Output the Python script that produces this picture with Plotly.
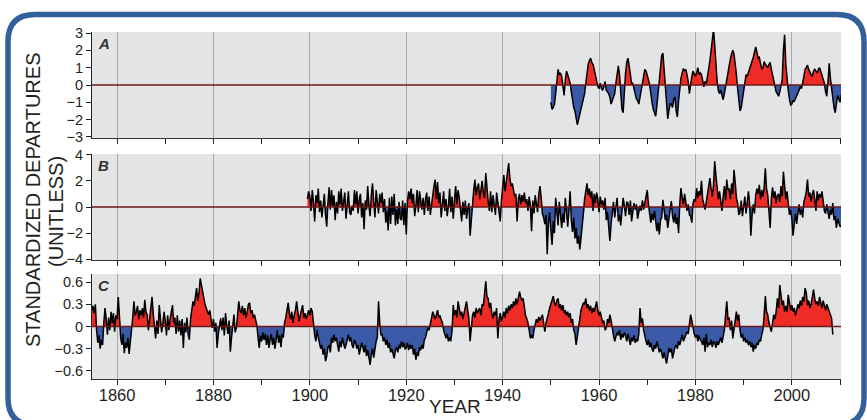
import numpy as np
import plotly.graph_objects as go

# ---------------- data (standardized departures, quarterly) ----------------
A_START, A_STEP = 1950.0, 0.25
A_VALUES = [
    -1.0, -1.4, -1.3, -1.1,   # 1950
    -0.5, 0.2, 0.9, 0.6,      # 1951
    0.7, 0.5, -0.2, -0.6,     # 1952
    0.3, 0.8, 0.6, 0.4,       # 1953
    0.1, -0.4, -0.9, -1.3,    # 1954
    -1.5, -1.9, -2.3, -2.0,   # 1955
    -1.7, -1.5, -1.2, -0.9,   # 1956
    -0.5, 0.1, 0.8, 1.2,      # 1957
    1.4, 1.55, 1.3, 1.2,      # 1958
    0.9, 0.6, 0.3, -0.1,      # 1959
    -0.2, 0.1, -0.2, -0.3,    # 1960
    -0.1, 0.2, -0.3, -0.4,    # 1961
    -0.5, -0.7, -1.1, -0.9,   # 1962
    -0.7, -0.5, 0.1, 0.6,     # 1963
    1.1, 0.6, -0.6, -1.4,     # 1964
    -1.6, -0.3, 0.7, 1.3,     # 1965
    1.55, 1.1, 0.5, 0.1,      # 1966
    0.1, -0.3, -0.5, -0.8,    # 1967
    -0.9, -1.1, -0.6, -0.3,   # 1968
    0.1, 0.5, 0.9, 0.8,       # 1969
    0.6, 0.3, 0.0, -0.6,      # 1970
    -1.0, -1.4, -1.6, -1.8,   # 1971
    -1.2, -0.5, 0.2, 1.2,     # 1972
    1.7, 1.85, 1.0, 0.2,      # 1973
    -1.0, -1.95, -1.5, -1.1,  # 1974
    -1.1, -1.3, -0.8, -0.7,   # 1975
    -1.5, -1.85, -0.9, -0.1,  # 1976
    0.4, 0.7, 0.95, 0.8,      # 1977
    0.9, 0.6, 0.2, -0.5,      # 1978
    0.1, 0.5, 0.8, 0.6,       # 1979
    0.5, 0.7, 1.0, 0.6,       # 1980
    0.7, 0.6, 0.2, -0.1,      # 1981
    0.2, 0.1, 0.5, 0.9,       # 1982
    1.4, 2.0, 2.6, 3.2,       # 1983
    2.3, 1.0, 0.2, -0.3,      # 1984
    -0.5, -0.3, -0.7, -0.85,  # 1985
    -0.5, -0.1, 0.3, 0.9,     # 1986
    1.2, 1.5, 1.8, 2.0,       # 1987
    1.8, 1.3, 0.6, -0.2,      # 1988
    -0.9, -1.5, -1.3, -0.8,   # 1989
    -0.4, 0.1, 0.6, 0.5,      # 1990
    0.7, 1.0, 1.1, 1.3,       # 1991
    1.6, 1.9, 2.2, 1.9,       # 1992
    1.55, 1.6, 1.2, 0.9,      # 1993
    1.0, 1.35, 1.2, 1.1,      # 1994
    1.0, 1.2, 1.3, 0.9,       # 1995
    0.6, 0.3, 0.0, -0.4,      # 1996
    -0.5, -0.65, -0.4, -0.1,  # 1997
    0.3, 2.0, 2.9, 1.2,       # 1998
    0.3, -0.3, -0.8, -1.15,   # 1999
    -1.1, -0.9, -0.95, -0.8,  # 2000
    -0.6, -0.55, -0.3, -0.1,  # 2001
    -0.2, 0.1, 0.5, 0.9,      # 2002
    1.0, 1.15, 0.9, 0.7,      # 2003
    0.6, 0.5, 0.8, 0.9,       # 2004
    0.8, 0.7, 0.9, 1.0,       # 2005
    0.8, 0.6, 0.4, 0.1,       # 2006
    -0.4, -0.65, 0.2, 1.25,   # 2007
    0.4, -0.3, -1.0, -1.3,    # 2008
    -1.6, -1.2, -0.6, -0.8,   # 2009
    -1.0, -0.55,              # 2010
]

B_START, B_STEP = 1899.5, 0.25
B_VALUES = [
    0.6, 1.2,                 # 1899
    0.8, -0.3, 1.3, 0.4,      # 1900
    -1.1, 0.9, 0.3, 1.4,      # 1901
    -0.4, 0.5, -0.8, 0.2,     # 1902
    1.0, -0.6, -1.5, 0.3,     # 1903
    1.5, -0.2, 1.3, 0.1,      # 1904
    0.9, -1.0, 0.4, -0.5,     # 1905
    1.2, 0.2, 1.4, -0.3,      # 1906
    0.5, 1.1, -0.9, 0.3,      # 1907
    1.2, -0.4, -0.6, 0.1,     # 1908
    -0.3, 1.3, 0.2, 1.2,      # 1909
    -0.5, 0.6, 1.0, -0.8,     # 1910
    0.3, -1.7, 0.5, -0.2,     # 1911
    1.6, 0.1, -0.7, 0.9,      # 1912
    1.8, 0.4, -0.8, 1.3,      # 1913
    0.2, -0.5, 1.0, 0.3,      # 1914
    1.1, -0.4, 0.6, -1.2,     # 1915
    -0.3, -1.8, 0.7, -1.3,    # 1916
    0.8, -0.6, 1.0, -1.4,     # 1917
    -0.2, -1.3, 0.4, -0.9,    # 1918
    -1.0, 0.5, -1.4, 0.3,     # 1919
    -2.1, 0.4, 1.2, 0.6,      # 1920
    1.4, 0.3, 1.0, -0.7,      # 1921
    0.1, 1.3, -0.4, 1.2,      # 1922
    0.5, -0.2, 0.7, -0.6,     # 1923
    0.6, 1.1, -0.3, 0.8,      # 1924
    -0.6, 0.4, 0.9, 1.6,      # 1925
    2.1, 0.6, 1.9, 0.3,       # 1926
    1.1, -0.8, 0.5, 1.2,      # 1927
    -0.3, 0.6, -0.7, 0.1,     # 1928
    1.4, -0.4, 0.8, -0.9,     # 1929
    0.5, 1.6, 0.2, 1.3,       # 1930
    0.7, -0.3, -1.1, 0.4,     # 1931
    -0.6, 0.5, -0.9, -0.2,    # 1932
    0.3, -2.2, -0.8, 0.6,     # 1933
    1.3, 2.1, 0.9, 1.5,       # 1934
    1.8, 0.6, 1.4, 2.0,       # 1935
    1.1, 0.7, 2.6, 1.2,       # 1936
    0.4, -0.3, 1.2, -0.4,     # 1937
    0.9, 0.2, -0.6, 1.1,      # 1938
    0.3, -0.4, -1.1, 0.5,     # 1939
    1.5, 2.45, 1.2, 2.0,      # 1940
    2.6, 3.35, 2.2, 1.6,      # 1941
    1.8, 1.2, 0.8, 1.0,       # 1942
    -1.1, 0.6, 1.0, 0.2,      # 1943
    0.9, 0.4, 1.1, 0.3,       # 1944
    0.6, -0.3, 0.8, 0.1,      # 1945
    -1.85, 0.5, -0.5, 0.9,    # 1946
    0.3, -0.4, 1.0, 1.6,      # 1947
    0.7, -0.5, -0.8, -1.3,    # 1948
    -0.6, -3.6, -1.2, -0.4,   # 1949
    -1.8, -2.9, -1.1, -2.0,   # 1950
    0.7, -0.8, -1.4, 0.4,     # 1951
    -0.9, -1.6, -0.5, -1.2,   # 1952
    0.7, -0.6, -1.5, -0.3,    # 1953
    1.2, -1.0, -1.9, -0.8,    # 1954
    -2.4, -1.6, -2.8, -2.2,   # 1955
    -3.25, -2.4, -1.6, -0.5,  # 1956
    0.6, 1.1, 1.8, 0.9,       # 1957
    1.4, 0.7, 1.2, -0.3,      # 1958
    1.0, 0.3, 1.1, 0.6,       # 1959
    -0.4, 0.8, 0.2, 0.5,      # 1960
    -0.2, 0.7, -1.0, -0.4,    # 1961
    -1.6, -2.6, -1.3, -0.6,   # 1962
    0.4, -0.8, 0.2, 0.7,      # 1963
    -1.1, -0.6, -1.4, -0.3,   # 1964
    0.7, 0.1, -0.7, 0.4,      # 1965
    0.3, -0.6, 0.5, -1.1,     # 1966
    -0.4, 0.3, -0.2, 0.2,     # 1967
    -0.9, -0.4, 0.1, -0.3,    # 1968
    0.5, -0.2, 0.4, 0.9,      # 1969
    1.3, 0.2, -0.6, -1.2,     # 1970
    -0.5, -1.0, -0.3, -1.4,   # 1971
    -1.85, -1.2, -2.1, -1.0,  # 1972
    -0.8, 0.55, -0.4, -1.0,   # 1973
    -0.6, -1.6, -0.9, -0.2,   # 1974
    0.45, -0.7, -1.2, -0.5,   # 1975
    -1.3, -0.8, -2.0, 0.3,    # 1976
    1.45, 0.7, 0.2, 1.0,      # 1977
    0.5, -0.3, 0.2, -0.6,     # 1978
    -0.7, -1.2, 0.3, 0.6,     # 1979
    0.4, 1.45, 0.7, 1.2,      # 1980
    0.9, 2.0, 0.6, 0.2,       # 1981
    -0.2, 0.4, 1.1, 1.6,      # 1982
    2.2, 1.4, 0.8, 1.7,       # 1983
    3.5, 2.4, 1.2, 0.6,       # 1984
    1.2, 0.4, -0.3, 0.8,      # 1985
    1.6, 0.5, 2.1, 1.3,       # 1986
    1.4, 0.6, 1.8, 1.0,       # 1987
    2.85, 1.9, 0.7, 0.3,      # 1988
    -0.6, -0.4, 0.5, -0.7,    # 1989
    0.3, 0.8, -0.5, 0.4,      # 1990
    1.2, 0.2, -2.2, -0.6,     # 1991
    0.2, -0.5, 0.9, 1.4,      # 1992
    1.0, 1.7, 0.6, 1.3,       # 1993
    0.8, 1.5, 2.95, 1.4,      # 1994
    0.9, -0.3, -1.6, 0.6,     # 1995
    1.5, 0.7, 1.2, 0.3,       # 1996
    0.9, 1.0, 0.4, 1.6,       # 1997
    0.8, 2.7, 1.5, 0.6,       # 1998
    1.2, 0.3, -0.6, -0.2,     # 1999
    -0.9, -2.2, -1.0, -0.5,   # 2000
    -1.3, -0.4, 0.2, -0.6,    # 2001
    -0.2, -0.8, 0.4, 0.7,     # 2002
    1.2, 2.1, 0.8, 1.1,       # 2003
    0.4, 1.0, 1.3, 0.6,       # 2004
    -0.3, 1.2, 0.5, 1.0,      # 2005
    0.7, 1.2, 0.4, -0.3,      # 2006
    -0.5, 0.2, -0.4, -0.9,    # 2007
    -0.2, -0.6, 0.3, -1.0,    # 2008
    -0.7, -1.6, -0.9, -1.2,   # 2009
    -1.5, -1.4,               # 2010
]

C_START, C_STEP = 1854.75, 0.25
C_VALUES = [
    0.22,                          # 1854
    0.28, 0.18, 0.30, -0.05,       # 1855
    -0.22, -0.12, -0.30, -0.18,    # 1856
    -0.25, 0.05, 0.25, 0.10,       # 1857
    -0.11, 0.12, -0.05, 0.20,      # 1858
    0.05, 0.18, -0.07, 0.15,       # 1859
    0.10, 0.40, 0.12, -0.15,       # 1860
    -0.25, -0.10, -0.36, -0.22,    # 1861
    -0.29, -0.15, -0.37, -0.20,    # 1862
    -0.11, 0.12, 0.34, 0.15,       # 1863
    0.20, 0.28, 0.10, 0.22,        # 1864
    0.15, 0.25, 0.12, 0.36,        # 1865
    0.20, 0.16, -0.05, 0.12,       # 1866
    0.25, 0.40, 0.18, 0.05,        # 1867
    -0.16, 0.08, -0.10, 0.29,      # 1868
    0.10, -0.08, 0.05, 0.20,       # 1869
    0.08, -0.12, 0.15, -0.05,      # 1870
    0.10, 0.18, 0.29, 0.05,        # 1871
    0.12, -0.10, 0.15, -0.07,      # 1872
    0.08, -0.12, 0.10, -0.29,      # 1873
    0.05, -0.08, 0.12, -0.11,      # 1874
    -0.18, 0.10, 0.25, 0.34,       # 1875
    0.28, 0.40, 0.52, 0.35,        # 1876
    0.45, 0.65, 0.55, 0.47,        # 1877
    0.40, 0.30, 0.25, 0.20,        # 1878
    0.16, 0.22, 0.08, -0.02,       # 1879
    0.10, -0.07, 0.05, -0.29,      # 1880
    -0.10, 0.05, 0.11, -0.05,      # 1881
    0.12, -0.12, 0.18, 0.02,       # 1882
    -0.10, 0.08, -0.34, -0.15,     # 1883
    0.05, 0.16, -0.08, -0.02,      # 1884
    0.15, 0.34, 0.22, 0.18,        # 1885
    0.28, 0.15, 0.25, 0.12,        # 1886
    0.20, 0.30, 0.32, 0.18,        # 1887
    0.22, 0.12, 0.16, 0.08,        # 1888
    0.02, -0.15, -0.29, -0.12,     # 1889
    -0.20, -0.08, -0.18, -0.10,    # 1890
    -0.25, -0.12, -0.29, -0.18,    # 1891
    -0.10, -0.25, -0.15, -0.30,    # 1892
    -0.18, -0.05, -0.22, -0.12,    # 1893
    -0.28, -0.10, -0.15, 0.05,     # 1894
    0.12, 0.20, 0.32, 0.18,        # 1895
    0.10, 0.20, 0.05, 0.15,        # 1896
    0.22, 0.34, 0.20, 0.07,        # 1897
    0.15, 0.22, 0.29, 0.12,        # 1898
    0.18, 0.10, 0.18, 0.22,        # 1899
    0.15, 0.25, 0.20, -0.02,       # 1900
    -0.11, -0.20, -0.05, -0.15,    # 1901
    -0.22, -0.30, -0.25, -0.38,    # 1902
    -0.30, -0.47, -0.40, -0.28,    # 1903
    -0.25, -0.35, -0.15, -0.22,    # 1904
    -0.11, -0.20, -0.15, -0.25,    # 1905
    -0.34, -0.20, -0.28, -0.15,    # 1906
    -0.22, -0.30, -0.25, -0.18,    # 1907
    -0.11, -0.20, -0.15, -0.25,    # 1908
    -0.29, -0.18, -0.22, -0.30,    # 1909
    -0.25, -0.38, -0.30, -0.22,    # 1910
    -0.28, -0.35, -0.25, -0.40,    # 1911
    -0.32, -0.45, -0.52, -0.38,    # 1912
    -0.30, -0.42, -0.29, -0.20,    # 1913
    -0.15, 0.34, 0.05, -0.11,      # 1914
    -0.11, -0.20, -0.15, -0.25,    # 1915
    -0.18, -0.29, -0.22, -0.35,    # 1916
    -0.30, -0.38, -0.43, -0.32,    # 1917
    -0.28, -0.35, -0.25, -0.30,    # 1918
    -0.20, -0.28, -0.22, -0.30,    # 1919
    -0.29, -0.22, -0.32, -0.25,    # 1920
    -0.30, -0.25, -0.38, -0.30,    # 1921
    -0.45, -0.35, -0.40, -0.28,    # 1922
    -0.32, -0.25, -0.30, -0.18,    # 1923
    -0.15, -0.08, -0.02, -0.05,    # 1924
    0.05, 0.12, 0.20, 0.15,        # 1925
    0.10, 0.16, 0.22, 0.12,        # 1926
    0.15, 0.09, 0.05, -0.05,       # 1927
    -0.12, -0.16, -0.10, -0.20,    # 1928
    -0.15, -0.20, -0.05, 0.29,     # 1929
    0.15, 0.22, 0.12, 0.34,        # 1930
    0.25, 0.15, 0.20, 0.10,        # 1931
    0.18, 0.28, 0.34, 0.22,        # 1932
    0.11, -0.20, 0.05, 0.15,       # 1933
    0.20, 0.12, 0.25, 0.18,        # 1934
    0.22, 0.25, 0.15, 0.30,        # 1935
    0.28, 0.45, 0.61, 0.40,        # 1936
    0.38, 0.25, 0.32, 0.18,        # 1937
    0.11, 0.20, 0.15, 0.25,        # 1938
    -0.16, 0.10, 0.18, 0.07,       # 1939
    0.15, 0.20, 0.12, 0.25,        # 1940
    0.18, 0.28, 0.22, 0.30,        # 1941
    0.25, 0.34, 0.28, 0.38,        # 1942
    0.30, 0.42, 0.47, 0.40,        # 1943
    0.35, 0.38, 0.25, 0.15,        # 1944
    0.11, 0.05, -0.05, -0.16,      # 1945
    -0.12, -0.16, -0.05, 0.05,     # 1946
    0.10, 0.05, 0.13, 0.08,        # 1947
    0.12, 0.16, 0.05, -0.07,       # 1948
    0.05, 0.10, 0.18, 0.25,        # 1949
    0.30, 0.35, 0.41, 0.32,        # 1950
    0.28, 0.35, 0.38, 0.25,        # 1951
    0.30, 0.22, 0.29, 0.18,        # 1952
    0.22, 0.15, 0.20, 0.12,        # 1953
    0.18, 0.05, 0.10, -0.05,       # 1954
    -0.10, -0.25, -0.12, 0.05,     # 1955
    0.10, 0.22, 0.28, 0.32,        # 1956
    0.30, 0.38, 0.25, 0.30,        # 1957
    0.22, 0.28, 0.18, 0.25,        # 1958
    0.20, 0.28, 0.34, 0.22,        # 1959
    0.15, 0.20, 0.11, 0.05,        # 1960
    0.08, -0.05, -0.02, 0.10,      # 1961
    0.05, 0.16, 0.08, -0.05,       # 1962
    -0.12, -0.20, -0.15, -0.08,    # 1963
    -0.12, -0.05, -0.18, -0.10,    # 1964
    -0.15, -0.08, -0.12, -0.20,    # 1965
    -0.10, -0.18, -0.25, -0.15,    # 1966
    -0.20, -0.12, -0.22, -0.18,    # 1967
    -0.20, -0.10, 0.25, 0.05,      # 1968
    0.11, -0.05, -0.15, -0.20,     # 1969
    -0.25, -0.18, -0.28, -0.22,    # 1970
    -0.30, -0.34, -0.25, -0.30,    # 1971
    -0.20, -0.28, -0.35, -0.30,    # 1972
    -0.38, -0.43, -0.35, -0.45,    # 1973
    -0.50, -0.40, -0.29, -0.35,    # 1974
    -0.30, -0.43, -0.35, -0.28,    # 1975
    -0.25, -0.30, -0.20, -0.25,    # 1976
    -0.18, -0.11, -0.20, -0.15,    # 1977
    -0.12, -0.07, -0.10, 0.05,     # 1978
    0.16, 0.08, -0.05, -0.10,      # 1979
    -0.15, -0.11, -0.20, -0.12,    # 1980
    -0.18, -0.20, -0.25, -0.15,    # 1981
    -0.34, -0.10, -0.28, -0.22,    # 1982
    -0.25, -0.18, -0.28, -0.20,    # 1983
    -0.22, -0.29, -0.20, -0.25,    # 1984
    -0.20, -0.15, -0.22, -0.10,    # 1985
    -0.05, 0.15, 0.34, 0.10,       # 1986
    0.11, -0.05, 0.08, -0.16,      # 1987
    -0.05, 0.10, 0.20, 0.08,       # 1988
    0.16, -0.05, -0.15, -0.10,     # 1989
    -0.20, -0.15, -0.22, -0.18,    # 1990
    -0.25, -0.20, -0.28, -0.22,    # 1991
    -0.34, -0.25, -0.30, -0.22,    # 1992
    -0.25, -0.18, -0.20, -0.11,    # 1993
    -0.05, 0.15, 0.41, 0.20,       # 1994
    0.16, 0.05, -0.02, -0.07,      # 1995
    0.05, 0.16, 0.10, 0.20,        # 1996
    0.38, 0.25, 0.56, 0.40,        # 1997
    0.29, 0.35, 0.20, 0.28,        # 1998
    0.20, 0.43, 0.30, 0.22,        # 1999
    0.29, 0.20, 0.25, 0.15,        # 2000
    0.22, 0.30, 0.25, 0.35,        # 2001
    0.28, 0.40, 0.34, 0.52,        # 2002
    0.45, 0.29, 0.35, 0.25,        # 2003
    0.30, 0.42, 0.50, 0.38,        # 2004
    0.30, 0.34, 0.28, 0.40,        # 2005
    0.32, 0.25, 0.35, 0.29,        # 2006
    0.22, 0.30, 0.25, 0.20,        # 2007
    0.15, 0.11, -0.11,             # 2008
]

PANEL_LABELS = ["A", "B", "C"]
A_TICKS = [-3, -2, -1, 0, 1, 2, 3]
B_TICKS = [-4, -2, 0, 2, 4]
C_TICKS = [-0.6, -0.3, 0, 0.3, 0.6]
X_TICKS = [1860, 1880, 1900, 1920, 1940, 1960, 1980, 2000]

# ---------------- styling ----------------
W, H = 867, 420
ML, MR, MT, MB = 92, 26, 32, 41
PW, PH = W - ML - MR, H - MT - MB
RED = "#ee2b25"
BLUE = "#3a5aa8"
BG = "#e3e4e6"
GRID = "#a9a9ab"
ZERO = "#6b1a1a"
FONT = "Liberation Sans, Arial, Helvetica, sans-serif"
TXT = "#231f20"


def px(x):
    return (x - ML) / PW


def py(y):
    return (H - MB - y) / PH


def with_crossings(x, y):
    xs, ys = [x[0]], [y[0]]
    for i in range(1, len(x)):
        if y[i - 1] * y[i] < 0:
            xc = x[i - 1] + (x[i] - x[i - 1]) * y[i - 1] / (y[i - 1] - y[i])
            xs.append(xc)
            ys.append(0.0)
        xs.append(x[i])
        ys.append(y[i])
    ys = np.array(ys)
    return np.array(xs), np.maximum(ys, 0), np.minimum(ys, 0)


def fmt_tick(t):
    if t == 0:
        return "0"
    s = str(abs(t))
    return ("−" + s) if t < 0 else s


series = [
    (A_START, A_STEP, A_VALUES),
    (B_START, B_STEP, B_VALUES),
    (C_START, C_STEP, C_VALUES),
]

fig = go.Figure()
for i, (start, step, vals) in enumerate(series):
    v = np.array(vals, dtype=float)
    x = start + step * np.arange(len(v))
    xs, pos, neg = with_crossings(x, v)
    sfx = "" if i == 0 else str(i + 1)
    common = dict(xaxis="x" + sfx, yaxis="y" + sfx, mode="lines",
                  hoverinfo="skip", showlegend=False)
    fig.add_trace(go.Scatter(x=xs, y=pos, fill="tozeroy", fillcolor=RED,
                             line=dict(width=0, color=RED), **common))
    fig.add_trace(go.Scatter(x=xs, y=neg, fill="tozeroy", fillcolor=BLUE,
                             line=dict(width=0, color=BLUE), **common))
    fig.add_trace(go.Scatter(x=x, y=v, line=dict(width=1.5, color="black"),
                             **common))

XR = [1854.8, 2010.2]
domains = [[py(138), py(32)], [py(260), py(154)], [py(379), py(274)]]
yranges = [[-3.06, 3.06], [-4.05, 4.05], [-0.71, 0.71]]
yticks = [A_TICKS, B_TICKS, C_TICKS]

layout = dict(
    width=W, height=H,
    margin=dict(l=ML, r=MR, t=MT, b=MB, autoexpand=False),
    paper_bgcolor="white", plot_bgcolor=BG,
    font=dict(family=FONT, color=TXT),
    showlegend=False,
)
for i in range(3):
    sfx = "" if i == 0 else str(i + 1)
    layout["xaxis" + sfx] = dict(
        domain=[0, 1], anchor="y" + sfx, range=XR, automargin=False,
        tickvals=X_TICKS, ticktext=[str(t) for t in X_TICKS],
        showgrid=True, gridcolor=GRID, gridwidth=1.2,
        ticks="outside", ticklen=5, tickcolor="#222", tickwidth=1,
        showticklabels=(i == 2),
        tickfont=dict(size=16.5, family=FONT, color=TXT),
        ticklabelstandoff=-4,
        showline=True, linecolor="#333", linewidth=1,
        zeroline=False,
        minor=dict(tickvals=list(range(1860, 2011, 10)), ticks="outside",
                   ticklen=5, tickcolor="#222", showgrid=False),
        matches=None if i == 0 else "x",
    )
    layout["yaxis" + sfx] = dict(
        domain=domains[i], anchor="x" + sfx, range=yranges[i], automargin=False,
        tickvals=yticks[i], ticktext=[fmt_tick(t) for t in yticks[i]],
        ticks="outside", ticklen=5, tickcolor="#222", tickwidth=1,
        tickfont=dict(size=14.5, family=FONT, color=TXT),
        showline=True, linecolor="#222", linewidth=1,
        showgrid=False, zeroline=False,
    )
fig.update_layout(**layout)

shapes = []
for i in range(3):
    sfx = "" if i == 0 else str(i + 1)
    shapes.append(dict(type="line", xref="x" + sfx + " domain", yref="y" + sfx,
                       x0=0, x1=1, y0=0, y1=0, layer="above",
                       line=dict(color=ZERO, width=1.5)))

# rounded blue frame
x0, y0, x1, y1, r = 8, 14.5, 864, 425, 27
path = (f"M {px(x0 + r)},{py(y0)} L {px(x1 - r)},{py(y0)} "
        f"Q {px(x1)},{py(y0)} {px(x1)},{py(y0 + r)} "
        f"L {px(x1)},{py(y1 - r)} Q {px(x1)},{py(y1)} {px(x1 - r)},{py(y1)} "
        f"L {px(x0 + r)},{py(y1)} Q {px(x0)},{py(y1)} {px(x0)},{py(y1 - r)} "
        f"L {px(x0)},{py(y0 + r)} Q {px(x0)},{py(y0)} {px(x0 + r)},{py(y0)} Z")
shapes.append(dict(type="path", xref="paper", yref="paper", path=path,
                   line=dict(color="#31609a", width=5.5), layer="below"))
fig.update_layout(shapes=shapes)

annotations = []
label_tops = [33, 155, 275]
for lab, top in zip(PANEL_LABELS, label_tops):
    annotations.append(dict(text=f"<b><i>{lab}</i></b>", xref="paper", yref="paper",
                            x=px(96), y=py(top), xanchor="left", yanchor="top",
                            showarrow=False,
                            font=dict(size=15, family=FONT, color="#333")))
annotations.append(dict(text="STANDARDIZED DEPARTURES", xref="paper", yref="paper",
                        x=px(33), y=py(200), xanchor="center", yanchor="middle",
                        textangle=-90, showarrow=False,
                        font=dict(size=20, family=FONT, color=TXT)))
annotations.append(dict(text="(UNITLESS)", xref="paper", yref="paper",
                        x=px(56), y=py(212), xanchor="center", yanchor="middle",
                        textangle=-90, showarrow=False,
                        font=dict(size=20, family=FONT, color=TXT)))
annotations.append(dict(text="YEAR", xref="paper", yref="paper",
                        x=px(455), y=py(419), xanchor="center", yanchor="bottom",
                        showarrow=False,
                        font=dict(size=19, family=FONT, color=TXT)))
fig.update_layout(annotations=annotations)

fig.write_html(
    "out.html",
    config={"displayModeBar": False},
    post_script="document.body.style.margin='0';document.body.style.overflow='hidden';",
)
